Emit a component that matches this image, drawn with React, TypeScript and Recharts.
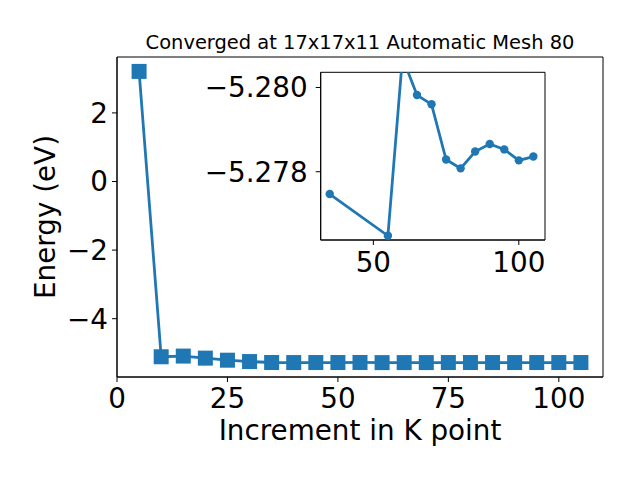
import React from 'react'
import { LineChart, Line, XAxis, YAxis, CartesianGrid, Label, ReferenceArea } from 'recharts'

// main series: k-point increment vs total energy
const kPoints = [5, 10, 15, 20, 25, 30, 35, 40, 45, 50, 55, 60, 65, 70, 75, 80, 85, 90, 95, 100, 105]
const energies = [
  3.21, -5.11, -5.09, -5.15, -5.21, -5.25, -5.2775, -5.279, -5.2785, -5.278, -5.2765,
  -5.2807, -5.2798, -5.2796, -5.2783, -5.2781, -5.2785, -5.2787, -5.2785, -5.2783, -5.2784,
]

// inset (zoomed) series
const insetK = [35, 55, 60, 65, 70, 75, 80, 85, 90, 95, 100, 105]
const insetE = [
  -5.27747, -5.27648, -5.28071, -5.27982, -5.2796, -5.27829, -5.27808, -5.27848, -5.27866,
  -5.27853, -5.27827, -5.27836,
]

const xTicks = [0, 25, 50, 75, 100]
const yTicks = [-4, -2, 0, 2]
const insetXTicks = [50, 100]
const insetYTicks = [-5.28, -5.278]

const xDomain: [number, number] = [0, 110]
const yDomain: [number, number] = [-5.7, 3.63]
const insetXDomain: [number, number] = [31.9, 109]
const insetYDomain: [number, number] = [-5.28036, -5.27638]

const BLUE = '#1f77b4'
const FONT = 'DejaVu Sans, sans-serif'
const TICK_FONT = 27.8

const mainData = kPoints.map((k, i) => ({ k, e: energies[i] }))
const insetData = insetK.map((k, i) => ({ k, e: insetE[i] }))

const minus = (s: string) => s.replace('-', '\u2212')

function squareDot(props: any) {
  const { cx, cy, index } = props
  if (cx == null || cy == null) return null
  return <rect key={`sq-${index}`} x={cx - 7.5} y={cy - 7.5} width={15} height={15} fill={BLUE} />
}

const XLabel = (props: any) => {
  const vb = props.viewBox ?? { x: 117, y: 377, width: 486, height: 103 }
  return (
    <text x={vb.x + vb.width / 2} y={vb.y + vb.height - 40} textAnchor="middle" fontSize={TICK_FONT} fill="#000" fontFamily={FONT}>
      Increment in K point
    </text>
  )
}

const YLabel = (props: any) => {
  const vb = props.viewBox ?? { x: 0, y: 57, width: 117, height: 320 }
  const cx = 45
  const cy = vb.y + vb.height / 2
  return (
    <text x={cx} y={cy} transform={`rotate(-90 ${cx} ${cy})`} textAnchor="middle" dominantBaseline="central" fontSize={TICK_FONT} fill="#000" fontFamily={FONT}>
      Energy (eV)
    </text>
  )
}

const tickStyle = { fontSize: TICK_FONT, fill: '#000', fontFamily: FONT }

export default function App() {
  return (
    <div style={{ position: 'absolute', left: 0, top: 0, width: 640, height: 480, background: '#fff', fontFamily: FONT }}>
      <div style={{ position: 'absolute', left: 117, top: 32.5, width: 486, textAlign: 'center', fontSize: 19.44, lineHeight: 1, color: '#000' }}>
        Converged at 17x17x11 Automatic Mesh 80
      </div>

      <div style={{ position: 'absolute', left: 0, top: 0 }}>
        <LineChart width={640} height={480} data={mainData} margin={{ top: 57, right: 37, left: 0, bottom: 0 }}>
          <XAxis
            dataKey="k"
            type="number"
            domain={xDomain}
            ticks={xTicks}
            height={103}
            tickSize={5}
            tickMargin={6}
            tick={tickStyle}
            stroke="#000"
            allowDataOverflow
          >
            <Label content={XLabel} />
          </XAxis>
          <YAxis
            dataKey="e"
            type="number"
            domain={yDomain}
            ticks={yTicks}
            width={117}
            tickSize={5}
            tickMargin={4}
            tick={tickStyle}
            tickFormatter={(v: number) => minus(String(v))}
            stroke="#000"
            allowDataOverflow
          >
            <Label content={YLabel} />
          </YAxis>
          {/* axes frame */}
          <ReferenceArea x1={xDomain[0]} x2={xDomain[1]} y1={yDomain[0]} y2={yDomain[1]} fill="none" stroke="#000" strokeWidth={1} ifOverflow="visible" />
          <Line
            dataKey="e"
            type="linear"
            stroke={BLUE}
            strokeWidth={2.78}
            dot={squareDot}
            activeDot={false}
            isAnimationActive={false}
          />
        </LineChart>
      </div>

      <div style={{ position: 'absolute', left: 180, top: 60 }}>
        <LineChart width={380} height={220} data={insetData} margin={{ top: 12.3, right: 15, left: 0, bottom: 0 }}>
          <CartesianGrid horizontal={false} vertical={false} fill="#fff" stroke="none" />
          <XAxis
            dataKey="k"
            type="number"
            domain={insetXDomain}
            ticks={insetXTicks}
            height={40}
            tickSize={5}
            tickMargin={7}
            tick={tickStyle}
            stroke="#000"
            allowDataOverflow
          />
          <YAxis
            dataKey="e"
            type="number"
            domain={insetYDomain}
            reversed
            ticks={insetYTicks}
            width={140.7}
            tickSize={5}
            tickMargin={8}
            tick={tickStyle}
            tickFormatter={(v: number) => minus(v.toFixed(3))}
            stroke="#000"
            allowDataOverflow
          />
          <ReferenceArea x1={insetXDomain[0]} x2={insetXDomain[1]} y1={insetYDomain[0]} y2={insetYDomain[1]} fill="none" stroke="#000" strokeWidth={1} ifOverflow="visible" />
          <Line
            dataKey="e"
            type="linear"
            stroke={BLUE}
            strokeWidth={2.78}
            dot={{ r: 4.2, fill: BLUE, stroke: BLUE, strokeWidth: 0 }}
            activeDot={false}
            isAnimationActive={false}
          />
        </LineChart>
      </div>
    </div>
  )
}
